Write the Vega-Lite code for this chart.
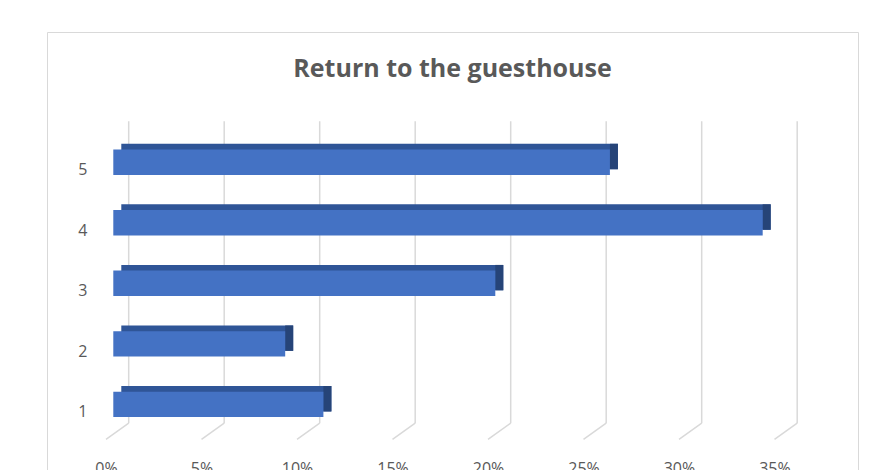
{
  "$schema": "https://vega.github.io/schema/vega-lite/v6.json",
  "width": 811,
  "height": 458,
  "autosize": {"type": "none"},
  "padding": {"left": 47, "top": 32, "right": 17, "bottom": 0},
  "background": "white",
  "config": {"view": {"stroke": "#d9d9d9", "strokeWidth": 1}, "font": "Open Sans"},
  "title": {"text": "Return to the guesthouse", "fontSize": 25, "fontWeight": "bold", "color": "#595959", "font": "Open Sans", "anchor": "middle", "frame": "group", "baseline": "alphabetic", "offset": -70},
  "datasets": {
    "ratings": [
      {"rating": 1, "value": 0.11},
      {"rating": 2, "value": 0.09},
      {"rating": 3, "value": 0.20},
      {"rating": 4, "value": 0.34},
      {"rating": 5, "value": 0.26}
    ],
    "ticks": [
      {"t": 0}, {"t": 0.05}, {"t": 0.10}, {"t": 0.15}, {"t": 0.20}, {"t": 0.25}, {"t": 0.30}, {"t": 0.35}
    ]
  },
  "layer": [
    {
      "data": {"name": "ticks"},
      "mark": {"type": "rule", "color": "#d9d9d9", "strokeWidth": 1.5, "xOffset": 15.4},
      "encoding": {
        "x": {"field": "t", "type": "quantitative", "title": null, "scale": {"domain": [-0.03471, 0.3899], "nice": false, "zero": false},
          "axis": {"title": null, "orient": "bottom", "values": [0, 0.05, 0.1, 0.15, 0.2, 0.25, 0.3, 0.35], "format": ".0%", "domain": false, "ticks": false, "tickSize": 0, "grid": false, "offset": -47, "labelPadding": 17.6, "labelOffset": -7.3, "labelFontSize": 16, "labelColor": "#595959", "labelFont": "Open Sans", "labelFlush": false, "labelOverlap": false}},
        "y": {"datum": 5.678, "type": "quantitative", "scale": {"domain": [-0.331, 7.068], "nice": false, "zero": false},
          "axis": {"title": null, "values": [1, 2, 3, 4, 5], "format": "d", "domain": false, "ticks": false, "tickSize": 0, "grid": false, "labelPadding": 5, "offset": -45, "labelFontSize": 16, "labelColor": "#595959", "labelOffset": 7.5, "labelFont": "Open Sans", "labelFlush": false, "labelOverlap": false}},
        "y2": {"datum": 0.687}
      }
    },
    {
      "data": {"name": "ticks"},
      "mark": {"type": "rule", "color": "#d9d9d9", "strokeWidth": 1.5, "xOffset": -7.3, "x2Offset": 15.4},
      "encoding": {
        "x": {"field": "t", "type": "quantitative", "title": null},
        "x2": {"field": "t"},
        "y": {"datum": 0.4233, "type": "quantitative"},
        "y2": {"datum": 0.6898}
      }
    },
    {
      "data": {"name": "ratings"},
      "mark": {"type": "bar", "orient": "horizontal", "size": 25.4, "color": "#2F5597", "xOffset": 8, "x2Offset": 4, "yOffset": -5.7},
      "encoding": {
        "x": {"field": "value", "type": "quantitative", "title": null},
        "y": {"field": "rating", "type": "quantitative", "title": null}
      }
    },
    {
      "data": {"name": "ratings"},
      "mark": {"type": "bar", "orient": "horizontal", "size": 25.4, "color": "#264478", "x2Offset": 8, "yOffset": -5.7},
      "encoding": {
        "x": {"field": "value", "type": "quantitative", "title": null},
        "x2": {"field": "value"},
        "y": {"field": "rating", "type": "quantitative", "title": null}
      }
    },
    {
      "data": {"name": "ratings"},
      "mark": {"type": "bar", "orient": "horizontal", "size": 25.4, "color": "#4472C4"},
      "encoding": {
        "x": {"field": "value", "type": "quantitative", "title": null},
        "y": {"field": "rating", "type": "quantitative", "title": null}
      }
    }
  ]
}
